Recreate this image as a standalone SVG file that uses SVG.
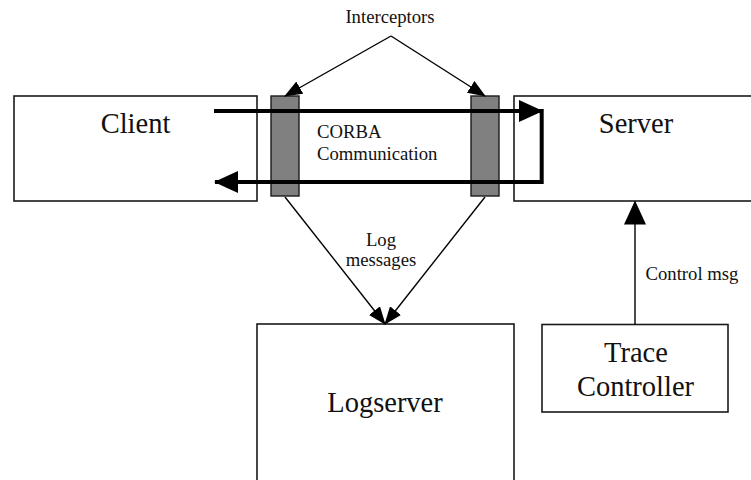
<svg xmlns="http://www.w3.org/2000/svg" width="751" height="480" viewBox="0 0 751 480">
  <style>
    .box { fill: #ffffff; stroke: #1a1a1a; stroke-width: 1.6; }
    .icpt { fill: #808080; stroke: #1a1a1a; stroke-width: 1.4; }
    .big { font-family: 'Liberation Serif', 'DejaVu Serif', serif; font-size: 28.5px; fill: #111; text-anchor: middle; }
    .small { font-family: 'Liberation Serif', 'DejaVu Serif', serif; font-size: 18.7px; fill: #111; }
    .thin { fill: none; stroke: #000; stroke-width: 1.4; }
    .thick { fill: none; stroke: #000; stroke-width: 4; }
  </style>
  <defs>
    <marker id="head" markerUnits="userSpaceOnUse" markerWidth="18" markerHeight="14" refX="17" refY="7" orient="auto">
      <path d="M0,0 L18,7 L0,14 z" fill="#000"/>
    </marker>
    <marker id="bighead" markerUnits="userSpaceOnUse" markerWidth="24" markerHeight="22" refX="23" refY="11" orient="auto">
      <path d="M0,0 L24,11 L0,22 z" fill="#000"/>
    </marker>
  </defs>

  <rect width="751" height="480" fill="#ffffff"/>

  <!-- nodes -->
  <g id="client">
    <rect class="box" x="14" y="96" width="243" height="105"/>
    <text class="big" x="135.5" y="133">Client</text>
  </g>
  <g id="server">
    <rect class="box" x="514" y="96" width="260" height="105"/>
    <text class="big" x="636" y="133">Server</text>
  </g>
  <g id="interceptor-client">
    <rect class="icpt" x="271" y="96" width="28" height="100"/>
  </g>
  <g id="interceptor-server">
    <rect class="icpt" x="471" y="96" width="28" height="100"/>
  </g>
  <g id="logserver">
    <rect class="box" x="257" y="324" width="257" height="180"/>
    <text class="big" x="385" y="412">Logserver</text>
  </g>
  <g id="trace-controller">
    <rect class="box" x="542" y="324.5" width="186" height="87.5"/>
    <text class="big" x="636" y="362">Trace</text>
    <text class="big" x="635.5" y="396">Controller</text>
  </g>

  <!-- free labels -->
  <g id="labels">
    <text class="small" x="390" y="23" text-anchor="middle">Interceptors</text>
    <text class="small" x="317" y="138">CORBA</text>
    <text class="small" x="317" y="160">Communication</text>
    <text class="small" x="381" y="246" text-anchor="middle">Log</text>
    <text class="small" x="381" y="266" text-anchor="middle">messages</text>
    <text class="small" x="645.5" y="280">Control msg</text>
  </g>

  <!-- connectors -->
  <g id="connectors">
    <line class="thin" x1="391" y1="36" x2="285" y2="96" marker-end="url(#head)"/>
    <line class="thin" x1="391" y1="36" x2="485" y2="96" marker-end="url(#head)"/>
    <line class="thin" x1="285" y1="197" x2="385" y2="324" marker-end="url(#head)"/>
    <line class="thin" x1="485" y1="197" x2="385" y2="324" marker-end="url(#head)"/>
    <line class="thin" x1="635" y1="324.5" x2="635" y2="201.5" marker-end="url(#bighead)"/>
    <line class="thick" x1="214" y1="111" x2="542" y2="111" marker-end="url(#bighead)"/>
    <path class="thick" d="M541.7,109 L541.7,182 L215,182" marker-end="url(#bighead)"/>
  </g>
</svg>
